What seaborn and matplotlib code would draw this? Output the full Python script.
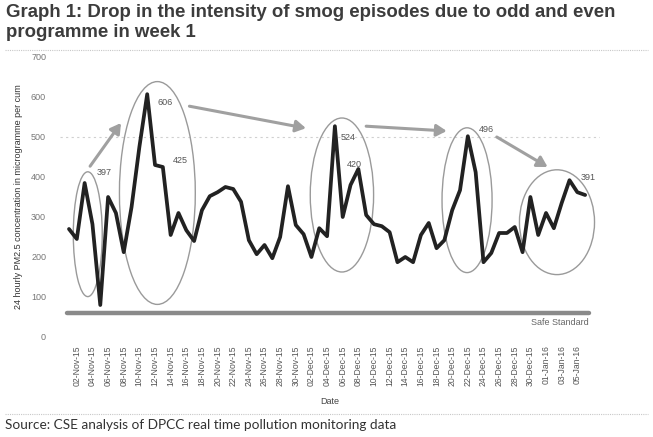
import pandas as pd
import numpy as np
import matplotlib
matplotlib.use("Agg")
import matplotlib.pyplot as plt
from matplotlib.patches import Ellipse
import seaborn as sns

# === Data ===
start_date = "2015-11-01"
end_date = "2016-01-06"
pm25 = [270, 245, 385, 282, 80, 350, 310, 212, 325, 475,
        607, 430, 425, 255, 310, 267, 240, 317, 352, 362,
        375, 370, 338, 242, 207, 230, 197, 250, 377, 280,
        257, 200, 272, 252, 527, 300, 380, 420, 305, 282,
        277, 262, 187, 200, 187, 255, 285, 222, 242, 317,
        367, 502, 412, 187, 210, 260, 260, 275, 212, 350,
        255, 310, 272, 335, 392, 362, 355]
safe_standard = 60
peak_labels = ["397", "606", "425", "524", "420", "496", "391"]

dates = pd.date_range(start_date, end_date, freq="D")
df = pd.DataFrame({"day": np.arange(len(pm25)), "pm25": pm25})
tick_pos = df["day"].values[1::2]
tick_lab = dates.strftime("%d-%b-%y")[1::2]


def main():
    sns.set_style("white")
    plt.rcParams["font.family"] = ["Liberation Sans", "DejaVu Sans"]

    fig = plt.figure(figsize=(6.53, 4.37), dpi=100)
    ax = fig.add_axes([60 / 653, 100 / 437, 540 / 653, 280 / 437])

    # faint gridline at 500
    ax.axhline(500, color="#d0d0d0", lw=0.8, ls=(0, (2, 3)), zorder=0)

    # safe standard line
    ax.plot([-0.3, 66.5], [safe_standard, safe_standard], color="#8a8a8a", lw=3.2, zorder=1)
    ax.text(66.5, safe_standard - 12, "Safe Standard", ha="right", va="top",
            fontsize=6.5, color="#666666")

    sns.lineplot(data=df, x="day", y="pm25", color="#222222", lw=2.7, ax=ax, zorder=3)

    # circled episodes
    ellipses = [(2.4, 257, 3.7, 312), (11.3, 360, 9.7, 557), (34.9, 355, 8.1, 385),
                (50.9, 342, 6.4, 362), (62.4, 287, 9.6, 262)]
    for cx, cy, w, h in ellipses:
        ax.add_patch(Ellipse((cx, cy), w, h, fill=False, ec="#9a9a9a", lw=1.0, zorder=2))

    # arrows between episodes
    arrows = [((2.7, 427), (6.65, 535)), ((15.4, 577), (30.3, 522)),
              ((38.0, 527), (48.3, 515)), ((54.7, 500), (61.2, 425))]
    for (x0, y0), (x1, y1) in arrows:
        ax.annotate("", xy=(x1, y1), xytext=(x0, y0),
                    arrowprops=dict(arrowstyle="-|>,head_length=0.6,head_width=0.35",
                                    color="#a0a0a0", lw=2.2, shrinkA=0, shrinkB=0), zorder=2)

    # peak values
    label_xy = [(3.6, 412), (11.3, 585), (13.3, 442), (34.8, 500), (35.5, 432),
                (52.4, 520), (65.4, 400)]
    for (lx, ly), txt in zip(label_xy, peak_labels):
        ax.text(lx, ly, txt, fontsize=6.5, color="#555555", ha="left", va="center", zorder=4)

    ax.set_xlim(-1.15, 67.9)
    ax.set_ylim(0, 700)
    ax.set_yticks(range(0, 701, 100))
    ax.set_xticks(tick_pos)
    ax.set_xticklabels(tick_lab, rotation=90, fontsize=6.2, color="#555555")
    ax.tick_params(axis="y", labelsize=6.5, labelcolor="#777777", length=0, pad=10)
    ax.tick_params(axis="x", length=0, pad=6)
    ax.set_xlabel("Date", fontsize=6.5, color="#444444", labelpad=8)
    ax.set_ylabel("24 hourly PM2.5 concentration in microgramme per cum",
                  fontsize=6.5, color="#333333", labelpad=6)
    sns.despine(ax=ax, left=True, bottom=True)

    # title, source and separators
    fig.text(6 / 653, 1 - 4 / 437,
             "Graph 1: Drop in the intensity of smog episodes due to odd and even\nprogramme in week 1",
             ha="left", va="top", fontsize=13.4, fontweight="bold", color="#3c3c3c",
             linespacing=1.2)
    fig.lines.append(plt.Line2D([5 / 653, 648 / 653], [1 - 50 / 437] * 2, transform=fig.transFigure,
                                color="#c8c8c8", lw=0.8, ls=(0, (1, 1))))
    fig.lines.append(plt.Line2D([5 / 653, 648 / 653], [1 - 414 / 437] * 2, transform=fig.transFigure,
                                color="#c8c8c8", lw=0.8, ls=(0, (1, 1))))
    fig.text(5 / 653, 1 - 425 / 437, "Source: CSE analysis of DPCC real time pollution monitoring data",
             ha="left", va="center", fontsize=9.8, color="#333333", family=["Lato", "DejaVu Sans"])

    fig.savefig("out.png", dpi=100, facecolor="white")


if __name__ == "__main__":
    main()
